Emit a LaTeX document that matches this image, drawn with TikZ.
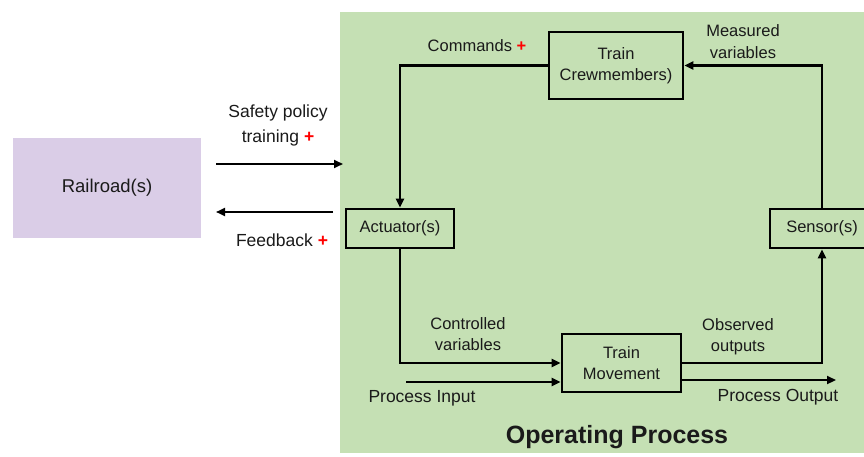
\documentclass[tikz,border=0pt]{standalone}
\usepackage{fontspec}
\setmainfont{Liberation Sans}
\usepackage{xcolor}
\usetikzlibrary{arrows.meta}

\definecolor{procgreen}{HTML}{C5E0B4}
\definecolor{railpurple}{HTML}{DACDE7}
\definecolor{inkgray}{HTML}{1A1A1A}
\newcommand{\redplus}{\textcolor{red}{\textbf{+}}}

\begin{document}
\begin{tikzpicture}[x=1pt,y=-1pt]
  \tikzstyle{block}=[draw=black, line width=2.8pt, fill=procgreen, align=center, inner sep=0pt, text=inkgray, font=\fontsize{16.5}{21}\selectfont]
  \tikzstyle{flow}=[line width=2.2pt, -{Triangle[length=9pt,width=8pt]}]
  \tikzstyle{lbl}=[align=center, inner sep=0pt, text=inkgray, font=\fontsize{16.5}{21}\selectfont]

  \useasboundingbox (0,0) rectangle (864,457);

  % background areas
  \fill[procgreen] (340,12) rectangle (880,453);
  \node (railroad) [fill=railpurple, minimum width=188pt, minimum height=100pt, text=inkgray, font=\fontsize{18.5}{22}\selectfont] at (107,188) {Railroad(s)};

  % process blocks
  \node (crew) [block, minimum width=134pt, minimum height=67pt] at (616,65.5) {Train\\Crewmembers)};
  \node (act) [block, minimum width=108pt, minimum height=39pt] at (400,228.5) {Actuator(s)};
  \node (sensor) [block, minimum width=104pt, minimum height=39pt] at (822,228.5) {Sensor(s)};
  \node (tm) [block, minimum width=119pt, minimum height=58pt] at (621.5,363) {Train\\Movement};

  % control loop
  \draw[flow] (crew.west) -| (act.north);
  \draw[flow] (sensor.north) |- (crew.east);
  \draw[flow] (act.south) |- (tm.west);
  \draw[flow] (tm.east) -| (sensor.south);

  % process in / out
  \coordinate (pin) at (406,382);
  \coordinate (pout) at (836,380);
  \draw[flow] (pin) -- (pin -| tm.west);
  \draw[flow] (tm.east |- pout) -- (pout);

  % railroad links
  \coordinate (polstart) at (216,164);
  \coordinate (polend) at (343,164);
  \coordinate (fbstart) at (333,212);
  \coordinate (fbend) at (216,212);
  \draw[flow] (polstart) -- (polend);
  \draw[flow] (fbstart) -- (fbend);

  % labels
  \node (polictext) [lbl, font=\fontsize{17.5}{25}\selectfont] at (278,125) {Safety policy\\training \redplus};
  \node (fbtext) [lbl, font=\fontsize{17.5}{21}\selectfont] at (282,240) {Feedback \redplus};
  \node (cmdtext) [lbl] at (477,46) {Commands \redplus};
  \node (meastext) [lbl, font=\fontsize{16.5}{22}\selectfont] at (743,42) {Measured\\variables};
  \node (ctrltext) [lbl] at (468,334) {Controlled\\variables};
  \node (obstext) [lbl] at (738,337) {Observed\\outputs};
  \node (pintext) [lbl, font=\fontsize{17.5}{21}\selectfont] at (422,398) {Process Input};
  \node (pouttext) [lbl, font=\fontsize{17.5}{21}\selectfont] at (778,397) {Process Output};
  \node (optext) [lbl, font=\fontsize{25}{28}\selectfont\bfseries] at (617,437) {Operating Process};
\end{tikzpicture}
\end{document}
